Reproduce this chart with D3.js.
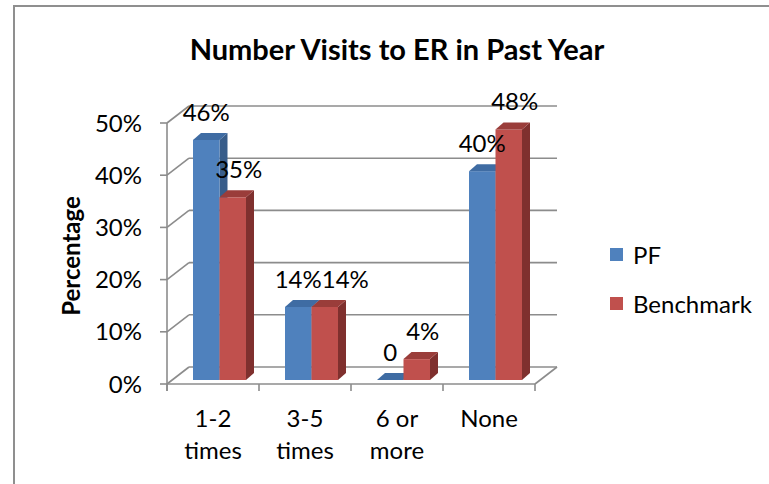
<!DOCTYPE html>
<html><head><meta charset="utf-8">
<script src="https://cdn.jsdelivr.net/npm/d3@7"></script>
<style>body{margin:0;background:#fff}svg{display:block}text{font-family:Lato,"Open Sans",sans-serif;fill:#000}</style>
</head><body>
<svg id="c" width="769" height="484"></svg>
<script>
const categories = [["1-2","times"],["3-5","times"],["6 or","more"],["None"]];
const series = ["PF","Benchmark"];
const pfValues = [0.46, 0.14, 0, 0.40];
const benchmarkValues = [0.35, 0.14, 0.04, 0.48];
const pfLabels = ["46%","14%","0","40%"];
const benchmarkLabels = ["35%","14%","4%","48%"];
const yTicks = [0,0.1,0.2,0.3,0.4,0.5];

const colors = {
  PF: {front:"#4F81BD", side:"#385D8A", top:"#3F6CA3"},
  Benchmark: {front:"#C0504D", side:"#7F302E", top:"#9A3D3A"}
};

const svg = d3.select("#c");
svg.append("rect").attr("x",14).attr("y",6).attr("width",800).attr("height",600)
  .attr("fill","#fff").attr("stroke","#8f8f8f").attr("stroke-width",2);

const catKeys = categories.map(c=>c.join(" "));
const x = d3.scaleBand().domain(catKeys).range([167,535]);
const x1 = d3.scaleBand().domain(series).range([0,53]);
const yFront = d3.scaleLinear().domain([0,0.5]).range([384,123]);
const DX = 22, DY = -17;          // floor depth
const BY = -4;                    // bar front offset into depth
const bdx = 8, bdy = -7;          // bar depth
const yBar = d3.scaleLinear().domain([0,0.5]).range([384+BY,123+BY]);
const grid = "#8c8c8c";
const fs = "24px";

const g = svg.append("g");
yTicks.forEach(t=>{
  const y0 = yFront(t);
  g.append("line").attr("x1",167).attr("y1",y0).attr("x2",167+DX).attr("y2",y0+DY).attr("stroke",grid).attr("stroke-width",1.6);
  g.append("line").attr("x1",167+DX).attr("y1",y0+DY).attr("x2",535+DX).attr("y2",y0+DY).attr("stroke",grid).attr("stroke-width",1.6);
});
g.append("line").attr("x1",167).attr("y1",384).attr("x2",535).attr("y2",384).attr("stroke",grid).attr("stroke-width",1.6);
g.append("line").attr("x1",535).attr("y1",384).attr("x2",535+DX).attr("y2",384+DY).attr("stroke",grid).attr("stroke-width",1.6);
g.append("line").attr("x1",167).attr("y1",yFront(0.5)).attr("x2",167).attr("y2",391).attr("stroke",grid).attr("stroke-width",1.6);
yTicks.forEach(t=>{
  g.append("line").attr("x1",160).attr("x2",167).attr("y1",yFront(t)).attr("y2",yFront(t)).attr("stroke",grid).attr("stroke-width",1.6);
  g.append("text").attr("x",142).attr("y",yFront(t)).attr("dy","0.36em").attr("text-anchor","end")
    .style("font-size",fs).text(d3.format(".0%")(t));
});
catKeys.concat(["end"]).forEach((k,i)=>{
  const xx = i<catKeys.length ? x(k) : x.range()[1];
  g.append("line").attr("x1",xx).attr("x2",xx).attr("y1",384).attr("y2",391).attr("stroke",grid).attr("stroke-width",1.6);
});
categories.forEach((c,i)=>{
  const cx = x(catKeys[i]) + x.bandwidth()/2;
  const t = g.append("text").attr("text-anchor","middle").style("font-size",fs);
  c.forEach((line,j)=>t.append("tspan").attr("x",cx).attr("y",427+j*32).text(line));
});

const data = [pfValues, benchmarkValues];
const labels = [pfLabels, benchmarkLabels];
const barsG = svg.append("g");
catKeys.forEach((k,i)=>{
  series.forEach((s,si)=>{
    const v = data[si][i];
    const x0 = x(k) + 26 + x1(s);
    const w = x1.bandwidth();
    const top = yBar(v), bot = yBar(0);
    const c = colors[s];
    if (v>0) {
      barsG.append("path").attr("d",`M${x0+w},${top}L${x0+w+bdx},${top+bdy}L${x0+w+bdx},${bot+bdy}L${x0+w},${bot}Z`).attr("fill",c.side);
      barsG.append("rect").attr("x",x0).attr("y",top).attr("width",w).attr("height",bot-top).attr("fill",c.front);
    }
    barsG.append("path").attr("d",`M${x0},${top}L${x0+bdx},${top+bdy}L${x0+w+bdx},${top+bdy}L${x0+w},${top}Z`).attr("fill",c.top);
  });
});
const labelG = svg.append("g");
catKeys.forEach((k,i)=>{
  const placed = [];
  series.forEach((s,si)=>{
    const v = data[si][i];
    const w = x1.bandwidth();
    let cx = x(k) + 26 + x1(s) + w/2 + (si===1?6:0);
    const by = yBar(v) - 19;
    const t = labelG.append("text").attr("text-anchor","middle").attr("x",cx).attr("y",by)
      .style("font-size",fs).text(labels[si][i]);
    const bb = t.node().getBBox();
    placed.forEach(p=>{
      if (Math.abs(p.y-by)<16 && bb.x < p.x2) { t.attr("x", cx + (p.x2-bb.x)); }
    });
    const nb = t.node().getBBox();
    placed.push({x2: nb.x+nb.width, y: by});
  });
});

svg.append("text").attr("x",397).attr("y",60).attr("text-anchor","middle")
  .style("font-size","29px").style("font-weight","bold").text("Number Visits to ER in Past Year");
svg.append("text").attr("transform","translate(80,256) rotate(-90)").attr("text-anchor","middle")
  .style("font-size","24px").style("font-weight","bold").text("Percentage");

const leg = svg.append("g");
series.forEach((s,i)=>{
  const ly = 248 + i*49;
  leg.append("rect").attr("x",610).attr("y",ly).attr("width",13).attr("height",13).attr("fill",colors[s].front);
  leg.append("text").attr("x",633).attr("y",ly+7).attr("dy","0.36em").style("font-size",fs).text(s);
});
</script>
</body></html>
